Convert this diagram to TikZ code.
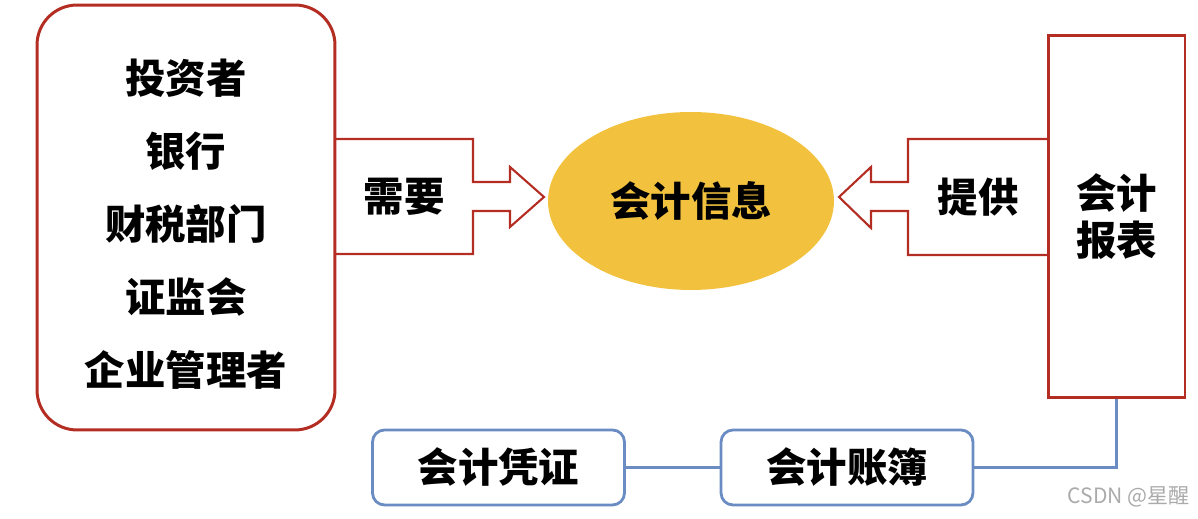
\documentclass[tikz,border=0pt]{standalone}
\usepackage{fontspec}
\setmainfont{Noto Sans CJK SC}
\usepackage{tikz}
\usetikzlibrary{
  positioning,
  shapes.geometric
}
\definecolor{acctred}{RGB}{180,45,35}
\definecolor{acctyellow}{RGB}{242,194,62}
\definecolor{acctblue}{RGB}{106,140,195}
\definecolor{acctgray}{RGB}{170,170,170}
\tikzset{
  userBox/.style={
    rectangle,
    rounded corners=0.8cm,
    draw=acctred,
    line width=1.7pt,
    minimum width=5.96cm,
    minimum height=8.5cm
  },
  userText/.style={
    align=center,
    font=\fontsize{23}{41.5}\selectfont\bfseries
  },
  infoNode/.style={
    ellipse,
    fill=acctyellow,
    inner sep=0pt,
    minimum width=5.72cm,
    minimum height=3.56cm,
    font=\fontsize{23}{27}\selectfont\bfseries
  },
  reportBox/.style={
    rectangle,
    draw=acctred,
    line width=1.7pt,
    minimum width=2.74cm,
    minimum height=7.26cm,
    align=center,
    font=\fontsize{23}{26.6}\selectfont\bfseries
  },
  recordBox/.style={
    rectangle,
    rounded corners=0.24cm,
    draw=acctblue,
    line width=1.6pt,
    minimum width=5.04cm,
    minimum height=1.5cm,
    font=\fontsize{23}{27}\selectfont\bfseries
  },
  blockArrow/.style={
    draw=acctred,
    line width=1.2pt,
    miter limit=10
  },
  arrowText/.style={
    font=\fontsize{23}{27}\selectfont\bfseries
  },
  recordLink/.style={
    draw=acctblue,
    line width=1.6pt
  }
}

\begin{document}
\begin{tikzpicture}[x=0.02cm, y=-0.02cm]
  \useasboundingbox (0,0) rectangle (1198,519);

  % users of accounting information
  \node[userBox] (users) at (186,217.5) {};
  \node[userText] (userlist) at (186,224)
    {投资者\\银行\\财税部门\\证监会\\企业管理者};

  \node[infoNode] (info) at (691,201) {会计信息};

  \node[reportBox] (report) at (1116.5,216.5) {会计\\报表};

  \node[recordBox] (voucher) at (498.5,467.5) {会计凭证};
  \node[recordBox] (ledger) at (847,467.5) {会计账簿};

  % block arrows
  \draw[blockArrow] (334,139) -- (473,139) -- (473,182) -- (510,182)
    -- (510,167) -- (544,197) -- (510,227) -- (510,211) -- (473,211)
    -- (473,254) -- (334,254);
  \node[arrowText] (need) at (404,197) {需要};

  \draw[blockArrow] (1048,139) -- (908,139) -- (908,182) -- (871,182)
    -- (871,167) -- (839,197) -- (871,228) -- (871,211) -- (908,211)
    -- (908,255) -- (1048,255);
  \node[arrowText] (provide) at (978,197) {提供};

  % record flow
  \draw[recordLink] (voucher) -- (ledger);
  \draw[recordLink] (ledger.east) -| (report.south);

  \node[text=acctgray, font=\fontsize{12}{14}\selectfont] (mark)
    at (1129,497) {CSDN @星醒};
\end{tikzpicture}
\end{document}
